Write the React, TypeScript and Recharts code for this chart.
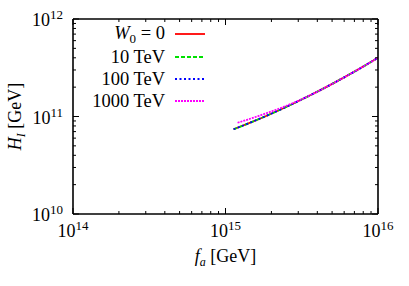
import React from "react";
import { LineChart, Line, XAxis, YAxis, Legend, Label } from "recharts";

// axion decay constant f_a [GeV] and Hubble scale H_I [GeV]
const faMain = [1.13e15, 1.4e15, 1.8e15, 2.3e15, 2.9e15, 3.7e15, 4.7e15, 6e15, 7.7e15, 1e16];
const hW0 = [7.4e10, 8.45e10, 9.95e10, 1.18e11, 1.4e11, 1.69e11, 2.05e11, 2.52e11, 3.14e11, 4.01e11];
const h10TeV = [7.4e10, 8.45e10, 9.95e10, 1.18e11, 1.4e11, 1.69e11, 2.05e11, 2.52e11, 3.14e11, 4.01e11];
const h100TeV = [7.4e10, 8.45e10, 9.95e10, 1.18e11, 1.4e11, 1.69e11, 2.05e11, 2.52e11, 3.14e11, 4.01e11];
const fa1000 = [1.2e15, 1.4e15, 1.8e15, 2.3e15, 2.9e15, 3.7e15, 4.7e15, 6e15, 7.7e15, 1e16];
const h1000TeV = [8.63e10, 9.31e10, 1.062e11, 1.222e11, 1.416e11, 1.69e11, 2.05e11, 2.52e11, 3.14e11, 4.01e11];

const xMajor = [1e14, 1e15, 1e16];
const xExp = ["14", "15", "16"];
const yMajor = [1e10, 1e11, 1e12];
const yExp = ["10", "11", "12"];
const minorMult = [2, 3, 4, 5, 6, 7, 8, 9];

const xTicks = [...xMajor, ...minorMult.map((m) => m * 1e14), ...minorMult.map((m) => m * 1e15)];
const yTicks = [...yMajor, ...minorMult.map((m) => m * 1e10), ...minorMult.map((m) => m * 1e11)];

const toRows = (xs: number[], ys: number[]) => xs.map((fa, i) => ({ fa, h: ys[i] }));

const series = [
  { key: "w0", label: "W0", data: toRows(faMain, hW0), color: "#ff0000", dash: undefined },
  { key: "10", label: "10 TeV", data: toRows(faMain, h10TeV), color: "#00e000", dash: "4 2" },
  { key: "100", label: "100 TeV", data: toRows(faMain, h100TeV), color: "#0000ff", dash: "2 2.5" },
  { key: "1000", label: "1000 TeV", data: toRows(fa1000, h1000TeV), color: "#ff00ff", dash: "2 1" },
];

const FONT = "'Liberation Serif', 'DejaVu Serif', serif";

function isMajor(list: number[], v: number) {
  return list.some((m) => Math.abs(m - v) / m < 1e-6);
}

// ticks point inward (gnuplot style); labels only on bottom/left
function XTick(props: any) {
  const { x, y, payload, side } = props;
  const v = payload.value;
  const major = isMajor(xMajor, v);
  const len = major ? 6 : 3;
  const dir = side === "top" ? 1 : -1;
  const idx = xMajor.findIndex((m) => Math.abs(m - v) / m < 1e-6);
  return (
    <g>
      <line x1={x} x2={x} y1={y} y2={y + dir * len} stroke="#000" strokeWidth={1} />
      {side === "bottom" && idx >= 0 && (
        <text x={x} y={y + 23} textAnchor="middle" fontFamily={FONT} fontSize={18} fill="#000">
          <tspan>10</tspan>
          <tspan dy={-7} fontSize={13}>{xExp[idx]}</tspan>
        </text>
      )}
    </g>
  );
}

function YTick(props: any) {
  const { x, y, payload, side } = props;
  const v = payload.value;
  const major = isMajor(yMajor, v);
  const len = major ? 6 : 3;
  const dir = side === "left" ? 1 : -1;
  const idx = yMajor.findIndex((m) => Math.abs(m - v) / m < 1e-6);
  return (
    <g>
      <line x1={x} x2={x + dir * len} y1={y} y2={y} stroke="#000" strokeWidth={1} />
      {side === "left" && idx >= 0 && (
        <text x={x - 10} y={y + 7} textAnchor="end" fontFamily={FONT} fontSize={18} fill="#000">
          <tspan>10</tspan>
          <tspan dy={-7} fontSize={13}>{yExp[idx]}</tspan>
        </text>
      )}
    </g>
  );
}

function XTitle(props: any) {
  const vb = props.viewBox;
  return (
    <text x={vb.x + vb.width / 2} y={262} textAnchor="middle" fontFamily={FONT} fontSize={18} fill="#000">
      <tspan fontStyle="italic">f</tspan>
      <tspan dy={4} fontSize={12} fontStyle="italic">a</tspan>
      <tspan dy={-4}> [GeV]</tspan>
    </text>
  );
}

function YTitle(props: any) {
  const vb = props.viewBox;
  const cx = 21;
  const cy = vb.y + vb.height / 2;
  return (
    <text
      x={cx}
      y={cy}
      transform={`rotate(-90 ${cx} ${cy})`}
      textAnchor="middle"
      fontFamily={FONT}
      fontSize={18}
      fill="#000"
    >
      <tspan fontStyle="italic">H</tspan>
      <tspan dy={4} fontSize={12} fontStyle="italic">I</tspan>
      <tspan dy={-4}> [GeV]</tspan>
    </text>
  );
}

function LegendBox() {
  return (
    <div style={{ fontFamily: FONT, fontSize: 18.5, color: "#000" }}>
      {series.map((s) => (
        <div key={s.key} style={{ display: "flex", alignItems: "center", height: 22.4 }}>
          <span style={{ width: 80, textAlign: "right", whiteSpace: "nowrap", lineHeight: "22px" }}>
            {s.key === "w0" ? (
              <>
                <i>W</i>
                <span style={{ fontSize: 13, position: "relative", top: 4 }}>0</span>
                {" = 0"}
              </>
            ) : (
              s.label
            )}
          </span>
          <svg width={40} height={10} style={{ marginLeft: 10 }}>
            <line x1={0} x2={30} y1={5} y2={5} stroke={s.color} strokeWidth={1.8} strokeDasharray={s.dash} />
          </svg>
        </div>
      ))}
    </div>
  );
}

export default function App() {
  return (
    <div style={{ position: "absolute", left: 0, top: 0, width: 409, height: 286, background: "#fff" }}>
      <LineChart width={409} height={286} margin={{ top: 18, right: 30, bottom: 12, left: 0 }}>
        <XAxis
          dataKey="fa"
          type="number"
          scale="log"
          domain={[1e14, 1e16]}
          allowDataOverflow
          ticks={xTicks}
          interval={0}
          height={60}
          tickSize={0}
          tickMargin={0}
          tickLine={false}
          axisLine={{ stroke: "#000", strokeWidth: 1.6 }}
          tick={<XTick side="bottom" />}
        >
          <Label content={<XTitle />} />
        </XAxis>
        <XAxis
          xAxisId="top"
          orientation="top"
          dataKey="fa"
          type="number"
          scale="log"
          domain={[1e14, 1e16]}
          allowDataOverflow
          ticks={xTicks}
          interval={0}
          height={1}
          tickSize={0}
          tickMargin={0}
          tickLine={false}
          axisLine={{ stroke: "#000", strokeWidth: 1.6 }}
          tick={<XTick side="top" />}
        />
        <YAxis
          type="number"
          scale="log"
          domain={[1e10, 1e12]}
          allowDataOverflow
          ticks={yTicks}
          interval={0}
          width={73}
          tickSize={0}
          tickMargin={0}
          tickLine={false}
          axisLine={{ stroke: "#000", strokeWidth: 1.6 }}
          tick={<YTick side="left" />}
        >
          <Label content={<YTitle />} />
        </YAxis>
        <YAxis
          yAxisId="right"
          orientation="right"
          type="number"
          scale="log"
          domain={[1e10, 1e12]}
          allowDataOverflow
          ticks={yTicks}
          interval={0}
          width={1}
          tickSize={0}
          tickMargin={0}
          tickLine={false}
          axisLine={{ stroke: "#000", strokeWidth: 1.6 }}
          tick={<YTick side="right" />}
        />
        <Legend
          layout="vertical"
          align="center"
          verticalAlign="middle"
          width={130}
          wrapperStyle={{ left: 85, top: 23 }}
          content={<LegendBox />}
        />
        {series.map((s) => (
          <Line
            key={s.key}
            data={s.data}
            dataKey="h"
            name={s.label}
            type="monotone"
            stroke={s.color}
            strokeWidth={1.8}
            strokeDasharray={s.dash}
            dot={false}
            isAnimationActive={false}
          />
        ))}
      </LineChart>
    </div>
  );
}
